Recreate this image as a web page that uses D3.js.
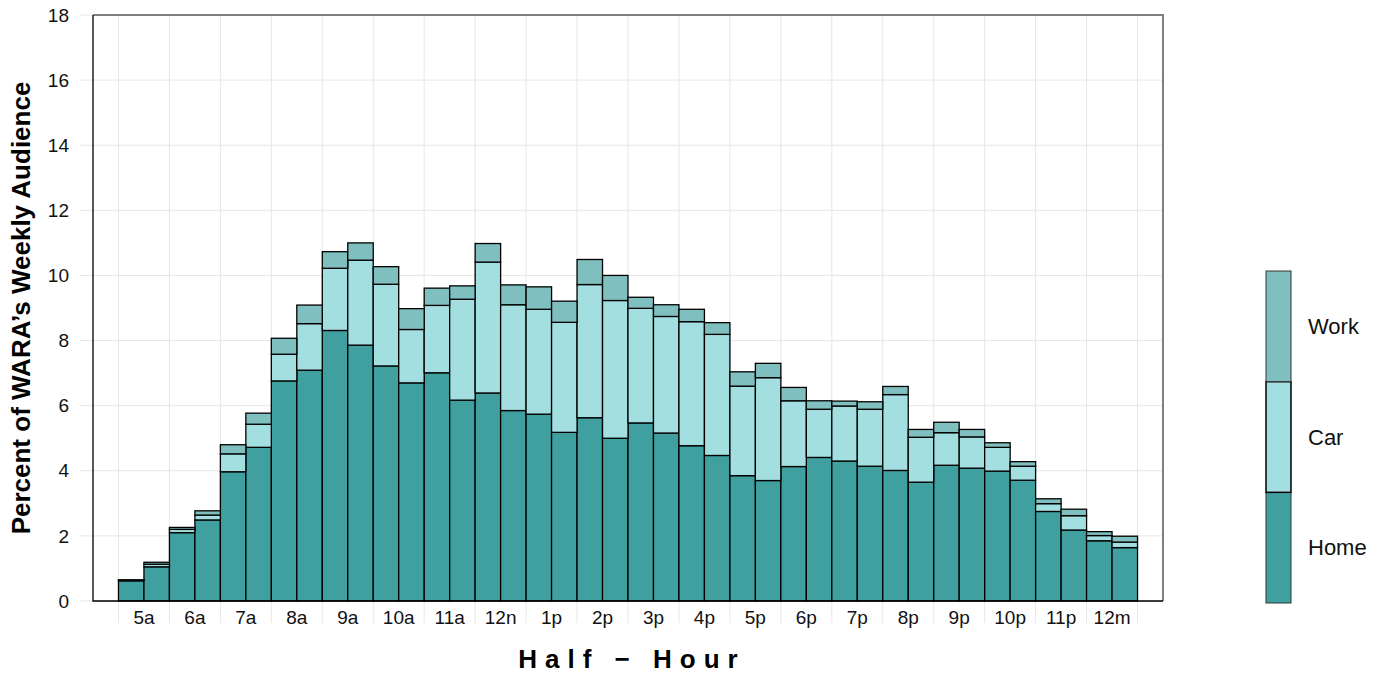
<!DOCTYPE html>
<html>
<head>
<meta charset="utf-8">
<script src="https://d3js.org/d3.v7.min.js"></script>
<style>
  body { margin: 0; background: white; }
  text { font-family: "Liberation Sans", Arial, sans-serif; }
  .grid line { stroke: #e6e6e6; stroke-width: 1px; }
  .tick-label { font-size: 19px; fill: #111; }
</style>
</head>
<body>
<svg id="chart" width="1383" height="675"></svg>
<script>
// half-hour slots, 40 bars, labelled every hour
const hourLabels = ["5a","6a","7a","8a","9a","10a","11a","12n","1p","2p","3p","4p","5p","6p","7p","8p","9p","10p","11p","12m"];
const home = [0.62,1.05,2.10,2.49,3.97,4.72,6.76,7.09,8.31,7.86,7.22,6.70,7.01,6.17,6.39,5.85,5.74,5.18,5.63,5.00,
              5.47,5.16,4.77,4.47,3.85,3.70,4.13,4.41,4.30,4.14,4.01,3.65,4.17,4.08,3.99,3.71,2.75,2.18,1.85,1.64];
const car  = [0.02,0.08,0.10,0.15,0.55,0.71,0.82,1.43,1.91,2.61,2.51,1.64,2.07,3.10,4.02,3.25,3.22,3.38,4.09,4.23,
              3.52,3.58,3.81,3.72,2.75,3.16,2.02,1.48,1.69,1.75,2.33,1.38,1.00,0.96,0.73,0.43,0.24,0.44,0.16,0.17];
const work = [0.01,0.06,0.06,0.13,0.28,0.34,0.49,0.57,0.51,0.53,0.54,0.64,0.53,0.41,0.57,0.61,0.69,0.65,0.77,0.77,
              0.34,0.36,0.38,0.36,0.44,0.44,0.41,0.26,0.15,0.23,0.25,0.24,0.32,0.23,0.14,0.14,0.15,0.20,0.12,0.18];
const keys = ["Home", "Car", "Work"];
const colors = { Home: "#40a0a0", Car: "#a3dfe0", Work: "#80bfbf" };
const yTicks = d3.range(0, 19, 2);

const svg = d3.select("#chart");
const margin = { top: 15, right: 220, bottom: 74, left: 93 };
const plotW = 1383 - margin.left - margin.right;
const plotH = 675 - margin.top - margin.bottom;
const g = svg.append("g").attr("transform", `translate(${margin.left},${margin.top})`);

const rows = home.map((h, i) => ({ i: i, Home: h, Car: car[i], Work: work[i] }));
const series = d3.stack().keys(keys)(rows);

// one empty bar slot of padding at each side
const x = d3.scaleLinear().domain([-1, home.length + 1]).range([0, plotW]);
const y = d3.scaleLinear().domain([0, 18]).range([plotH, 0]);

// grid
const grid = g.append("g").attr("class", "grid");
grid.selectAll("line.h").data(yTicks).join("line")
  .attr("x1", -13).attr("x2", plotW)
  .attr("y1", d => y(d)).attr("y2", d => y(d));
grid.selectAll("line.v").data(d3.range(0, home.length + 1, 2)).join("line")
  .attr("x1", d => x(d)).attr("x2", d => x(d))
  .attr("y1", 0).attr("y2", plotH + 22);

// bars
g.selectAll("g.layer").data(series).join("g")
  .attr("fill", d => colors[d.key])
  .selectAll("rect").data(d => d).join("rect")
  .attr("x", d => x(d.data.i))
  .attr("width", x(1) - x(0))
  .attr("y", d => y(d[1]))
  .attr("height", d => y(d[0]) - y(d[1]))
  .attr("stroke", "#000")
  .attr("stroke-width", 1.3);

// frame: grey top/right, black left/bottom
g.append("path").attr("d", `M0,0H${plotW}V${plotH}`).attr("fill", "none")
  .attr("stroke", "#808080").attr("stroke-width", 2);
g.append("path").attr("d", `M0,0V${plotH}H${plotW}`).attr("fill", "none")
  .attr("stroke", "#000").attr("stroke-width", 1.3);

// tick labels
g.selectAll("text.ylab").data(yTicks).join("text")
  .attr("class", "tick-label")
  .attr("x", -24).attr("y", d => y(d)).attr("dy", "0.35em")
  .attr("text-anchor", "end").text(d => d);
g.selectAll("text.xlab").data(hourLabels).join("text")
  .attr("class", "tick-label")
  .attr("x", (d, k) => x(2 * k + 1)).attr("y", plotH + 23)
  .attr("text-anchor", "middle").text(d => d);

// axis titles
svg.append("text")
  .attr("transform", `translate(30,${margin.top + plotH / 2}) rotate(-90)`)
  .attr("text-anchor", "middle")
  .style("font-size", "26px").style("font-weight", "bold")
  .text("Percent of WARA\u2019s Weekly Audience");
svg.append("text")
  .attr("x", margin.left + plotW / 2 + 4).attr("y", 668)
  .attr("text-anchor", "middle")
  .style("font-size", "26px").style("font-weight", "bold").style("letter-spacing", "8px")
  .text("Half \u2212 Hour");

// legend
const legY = d3.scaleBand().domain(keys.slice().reverse()).range([271, 603]);
const leg = svg.append("g");
leg.selectAll("rect").data(keys).join("rect")
  .attr("x", 1266).attr("width", 25)
  .attr("y", d => legY(d)).attr("height", legY.bandwidth())
  .attr("fill", d => colors[d])
  .attr("stroke", d => d === "Car" ? "#000" : "#333")
  .attr("stroke-width", d => d === "Car" ? 1.5 : 1);
leg.selectAll("text").data(keys).join("text")
  .attr("x", 1308).attr("y", d => legY(d) + legY.bandwidth() / 2).attr("dy", "0.35em")
  .style("font-size", "22px").attr("fill", "#111")
  .text(d => d);
</script>
</body>
</html>
